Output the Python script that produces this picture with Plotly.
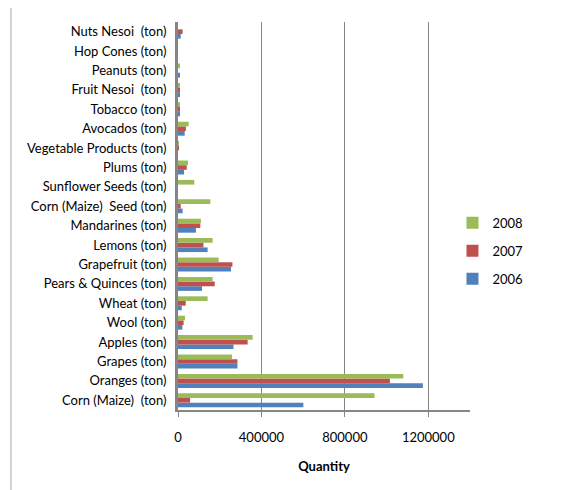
import plotly.graph_objects as go

categories = [
    "Corn (Maize)  (ton)", "Oranges (ton)", "Grapes (ton)", "Apples (ton)", "Wool (ton)",
    "Wheat (ton)", "Pears & Quinces (ton)", "Grapefruit (ton)", "Lemons (ton)",
    "Mandarines (ton)", "Corn (Maize)  Seed (ton)", "Sunflower Seeds (ton)", "Plums (ton)",
    "Vegetable Products (ton)", "Avocados (ton)", "Tobacco (ton)", "Fruit Nesoi  (ton)",
    "Peanuts (ton)", "Hop Cones (ton)", "Nuts Nesoi  (ton)",
]
v2006 = [601000, 1174000, 285000, 266000, 21000, 18000, 115000, 254000, 142000, 86000,
         22000, 0, 29000, 0, 32000, 5000, 5000, 5000, 0, 13000]
v2007 = [58000, 1016000, 285000, 334000, 27000, 37000, 176000, 261000, 122000, 107000,
         13000, 0, 42000, 3000, 38000, 5000, 5000, 0, 0, 22000]
v2008 = [942000, 1080000, 259000, 358000, 34000, 142000, 166000, 195000, 166000, 110000,
         155000, 78000, 48000, 3000, 51000, 5000, 5000, 5000, 0, 0]
series_names = ["2006", "2007", "2008"]
series_colors = ["#4F81BD", "#C0504D", "#9BBB59"]
legend_ranks = [3, 2, 1]
tick_vals = [0, 400000, 800000, 1200000]

FONT = "Lato, Carlito, Calibri, sans-serif"

fig = go.Figure()
for name, vals, col, rank in zip(series_names, [v2006, v2007, v2008], series_colors, legend_ranks):
    fig.add_trace(go.Bar(
        y=categories, x=vals, name=name, orientation="h",
        marker=dict(color=col, line=dict(width=0)),
        legendgroup=name, legendrank=rank,
    ))

# page body has an 8px margin, so the figure is 8px smaller and margins shifted
fig.update_layout(
    width=560, height=482,
    margin=dict(l=170, r=98, t=14, b=80, autoexpand=False),
    paper_bgcolor="white", plot_bgcolor="white",
    barmode="group", bargap=0.28, bargroupgap=0,
    font=dict(family=FONT, size=13, color="black"),
    legend=dict(
        x=0.94, y=0.41, xanchor="left", yanchor="middle",
        traceorder="grouped", tracegroupgap=8,
        font=dict(family=FONT, size=13, color="black"),
        bgcolor="rgba(0,0,0,0)",
    ),
    xaxis=dict(
        range=[0, 1400000], tickvals=tick_vals,
        ticktext=[str(t) for t in tick_vals],
        showgrid=True, gridcolor="#868686", gridwidth=1,
        showline=True, linecolor="#868686", linewidth=2,
        ticks="outside", ticklen=5, tickcolor="#868686",
        zeroline=False, ticklabelstandoff=9,
        title=dict(text="<b>Quantity</b>", font=dict(family=FONT, size=13), standoff=18),
        tickfont=dict(family=FONT, size=13),
    ),
    yaxis=dict(
        type="category", categoryorder="array", categoryarray=categories,
        showgrid=False, showline=True, linecolor="#868686", linewidth=3,
        ticks="", tickfont=dict(family=FONT, size=13),
        ticklabelstandoff=6,
    ),
    shapes=[dict(
        type="rect", xref="paper", yref="paper",
        x0=-0.572, x1=1.6, y0=-0.6, y1=1.0387,
        line=dict(color="#A6A6A6", width=1), layer="below",
    )],
)

fig.write_html("out.html")
